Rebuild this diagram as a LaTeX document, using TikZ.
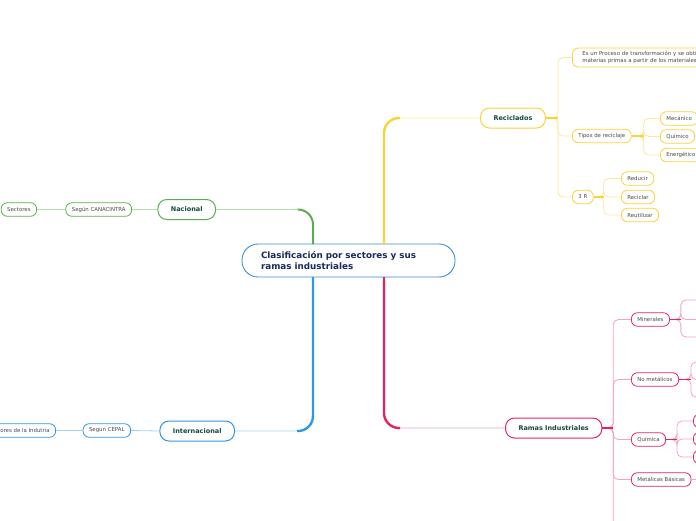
\documentclass[tikz,border=0pt]{standalone}
\usepackage{fontspec}
\setmainfont{DejaVu Sans}
\usetikzlibrary{positioning}

\definecolor{navytext}{HTML}{1B2A5C}
\definecolor{topictext}{HTML}{124A3A}
\definecolor{leaftext}{HTML}{4A4A4A}
\definecolor{hubblue}{HTML}{3A8FD6}
\definecolor{grn}{HTML}{5BAE4C}
\definecolor{grnlight}{HTML}{B5DDAE}
\definecolor{blu}{HTML}{2E98E8}
\definecolor{blulight}{HTML}{A3D2F5}
\definecolor{ylw}{HTML}{F8D43A}
\definecolor{ylwlight}{HTML}{FCE79A}
\definecolor{pnk}{HTML}{E4245F}
\definecolor{pnklight}{HTML}{F5A3BF}

\begin{document}
\begin{tikzpicture}[x=1pt, y=-1pt,
    central/.style={draw=hubblue, line width=0.9pt, rounded corners=16pt, fill=white,
        minimum height=33pt, text width=175pt, inner xsep=19pt, inner ysep=0pt, align=left,
        font=\fontsize{8.8}{11}\selectfont\bfseries, text=navytext},
    topic/.style={draw=#1, line width=1pt, rounded corners=9pt, fill=white,
        minimum height=20pt, inner xsep=13pt, inner ysep=0pt,
        font=\fontsize{6.5}{8}\selectfont\bfseries, text=topictext},
    leaf/.style={draw=#1, line width=0.8pt, rounded corners=6pt, fill=white,
        minimum height=13.5pt, inner xsep=6pt, inner ysep=0pt,
        font=\fontsize{5.4}{6.4}\selectfont, text=leaftext},
    link/.style={draw=#1, line width=0.8pt, rounded corners=5pt},
    trunk/.style={draw=#1, line width=2.4pt, rounded corners=15pt},
]
    \useasboundingbox (0,0) rectangle (696,520);
    \clip (0,0) rectangle (696,520);

    % Central topic
    \node[central] (hub) at (348.5,260.5) {Clasificación por sectores y sus\\ramas industriales};

    % Main branches
    \node[topic=grn, anchor=east] (nacional) at (216,209.5) {Nacional};
    \node[topic=blu, anchor=east] (internacional) at (235,431) {Internacional};
    \node[topic=ylw, anchor=west] (reciclados) at (480,118) {Reciclados};
    \node[topic=pnk, anchor=west] (ramas) at (505,428) {Ramas Industriales};

    % Nacional
    \node[leaf=grn, anchor=east] (canacintra) at (132,209.5) {Según CANACINTRA};
    \node[leaf=grn, anchor=east] (sectores) at (37,209.5) {Sectores};

    % Internacional
    \node[leaf=blu, anchor=east] (cepal) at (131,430.5) {Segun CEPAL};
    \node[leaf=blu, anchor=east] (sectind) at (56,430.5) {Sectores de la Indutria};

    % Reciclados
    \node[leaf=ylw, anchor=west, minimum height=19pt, text width=140pt, inner xsep=10pt, align=left]
        (proceso) at (572,57.5) {Es un Proceso de transformación y se obtienen\\materias primas a partir de los materiales};
    \node[leaf=ylw, anchor=west] (tipos) at (572,136) {Tipos de reciclaje};
    \node[leaf=ylw, anchor=west] (mecanico) at (660,118.5) {Mecánico};
    \node[leaf=ylw, anchor=west] (quimico) at (660,136.5) {Químico};
    \node[leaf=ylw, anchor=west] (energetico) at (660,155) {Energético};
    \node[leaf=ylw, anchor=west] (tresr) at (572,197) {3 R};
    \node[leaf=ylw, anchor=west] (reducir) at (621,178.5) {Reducir};
    \node[leaf=ylw, anchor=west] (reciclar) at (621,197) {Reciclar};
    \node[leaf=ylw, anchor=west] (reutilizar) at (621,215) {Reutilizar};

    % Ramas Industriales
    \node[leaf=pnk, anchor=west] (minerales) at (631,319.5) {Minerales};
    \node[leaf=pnk, anchor=west] (nometal) at (631,379.5) {No metálicos};
    \node[leaf=pnk, anchor=west] (quimica) at (631,439.5) {Química};
    \node[leaf=pnk, anchor=west] (metbas) at (631,479.5) {Metálicas Básicas};
    \node[leaf=pnk, anchor=west, minimum width=20pt] (quimA) at (693,421) {};
    \node[leaf=pnk, anchor=west, minimum width=20pt] (quimB) at (693,439) {};
    \node[leaf=pnk, anchor=west, minimum width=20pt] (quimC) at (693,457) {};

    % off-canvas ends
    \coordinate (minA) at (700,300);
    \coordinate (minB) at (700,319.5);
    \coordinate (minC) at (700,337);
    \coordinate (nomA) at (700,362);
    \coordinate (nomB) at (700,379.5);
    \coordinate (nomC) at (700,397);
    \coordinate (metA) at (700,479.5);
    \coordinate (ramasMore) at (631,560);

    % roots of the main branches on the hub
    \coordinate (gRoot) at (313,244);
    \coordinate (bRoot) at (313,277);
    \coordinate (yRoot) at (384,244);
    \coordinate (pRoot) at (384,277);

    % Main connectors
    \draw[link=grnlight, rounded corners=15pt] (nacional.east) -| (gRoot);
    \draw[trunk=grn, line width=2pt] (gRoot) |- ++(-14,-34.5);
    \draw[link=blulight, rounded corners=15pt] (internacional.east) -| (bRoot);
    \draw[trunk=blu] (bRoot) |- ++(-16,154);
    \draw[link=ylwlight, rounded corners=15pt] (reciclados.west) -| (yRoot);
    \draw[trunk=ylw] (yRoot) |- ++(16,-126);
    \draw[link=pnklight, rounded corners=15pt] (ramas.west) -| (pRoot);
    \draw[trunk=pnk] (pRoot) |- ++(16,151);

    % Nacional / Internacional
    \draw[link=grnlight] (nacional.west) -- (canacintra.east);
    \draw[link=grnlight] (canacintra.west) -- (sectores.east);
    \draw[link=blulight] (internacional.west) -- (cepal.east);
    \draw[link=blulight] (cepal.west) -- (sectind.east);

    % Reciclados
    \foreach \n in {proceso,tipos,tresr}
        \draw[link=ylwlight] (reciclados.east) -- ++(12,0) |- (\n.west);
    \draw[link=ylw, line width=1.2pt] (reciclados.east) -- ++(12,0);
    \foreach \n in {mecanico,quimico,energetico}
        \draw[link=ylwlight] (tipos.east) -- ++(12,0) |- (\n.west);
    \draw[link=ylw, line width=1.2pt] (tipos.east) -- ++(12,0);
    \foreach \n in {reducir,reciclar,reutilizar}
        \draw[link=ylwlight] (tresr.east) -- ++(10,0) |- (\n.west);
    \draw[link=ylw, line width=1.2pt] (tresr.east) -- ++(10,0);

    % Ramas Industriales
    \foreach \n in {minerales,nometal,quimica,metbas,ramasMore}
        \draw[link=pnklight] (ramas.east) -- ++(11,0) |- (\n.west);
    \draw[link=pnk, line width=1.2pt] (ramas.east) -- ++(11,0);
    \foreach \n in {minA,minB,minC}
        \draw[link=pnklight] (minerales.east) -- ++(11,0) |- (\n);
    \draw[link=pnk, line width=1.2pt] (minerales.east) -- ++(11,0);
    \foreach \n in {nomA,nomB,nomC}
        \draw[link=pnklight] (nometal.east) -- ++(12,0) |- (\n);
    \draw[link=pnk, line width=1.2pt] (nometal.east) -- ++(12,0);
    \foreach \n in {quimA,quimB,quimC}
        \draw[link=pnklight] (quimica.east) -- ++(11,0) |- (\n.west);
    \draw[link=pnk, line width=1.2pt] (quimica.east) -- ++(11,0);
    \draw[link=pnklight] (metbas.east) -- (metA);
\end{tikzpicture}
\end{document}
